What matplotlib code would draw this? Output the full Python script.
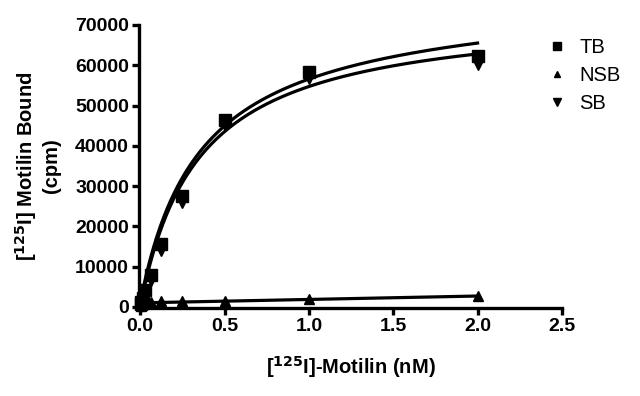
import numpy as np
import matplotlib
matplotlib.use('Agg')
import matplotlib.pyplot as plt

plt.rcParams['font.family'] = ['Liberation Sans', 'DejaVu Sans']

# --- data ---
conc = [0.0039, 0.0078, 0.0156, 0.03125, 0.0625, 0.125, 0.25, 0.5, 1.0, 2.0]
tb = [600, 1200, 2300, 4300, 8000, 15600, 27500, 46400, 58300, 62200]
nsb = [300, 500, 700, 1000, 1300, 1400, 1500, 1500, 2000, 2700]
sb = [300, 700, 1600, 3300, 6700, 14200, 26000, 45100, 56800, 60300]

# fitted curve parameters (one site binding + linear non-specific)
bmax = 73700.0
kd = 0.347
ns_slope = 850.0
ns_icpt = 1000.0

xfit = np.linspace(0, 2.0, 400)
sb_fit = bmax * xfit / (kd + xfit)
nsb_fit = ns_icpt + ns_slope * xfit
tb_fit = sb_fit + ns_slope * xfit + ns_icpt * np.minimum(1, xfit / 0.02)

fig = plt.figure(figsize=(6.4, 3.96), dpi=100)
ax = fig.add_axes([0.219, 0.225, 0.659, 0.712])

lw = 2.3
ax.plot(xfit, tb_fit, color='black', lw=lw)
ax.plot(xfit, sb_fit, color='black', lw=lw)
ax.plot(xfit, nsb_fit, color='black', lw=lw)

h1, = ax.plot(conc, tb, 's', color='black', ms=8.5, clip_on=False, label='TB')
h2, = ax.plot(conc, nsb, '^', color='black', ms=6.5, clip_on=False, label='NSB')
h3, = ax.plot(conc, sb, 'v', color='black', ms=8, clip_on=False, label='SB')

ax.set_xlim(0, 2.5)
ax.set_ylim(0, 70000)
ax.set_xticks([0.0, 0.5, 1.0, 1.5, 2.0, 2.5])
ax.set_xticklabels(['0.0', '0.5', '1.0', '1.5', '2.0', '2.5'])
ax.set_yticks(np.arange(0, 70001, 10000))

for s in ['top', 'right']:
    ax.spines[s].set_visible(False)
for s in ['left', 'bottom']:
    ax.spines[s].set_linewidth(2.4)
    ax.spines[s].set_position(('outward', 1))
ax.tick_params(width=2.4, length=5, labelsize=14, pad=2)
for lab in ax.get_xticklabels() + ax.get_yticklabels():
    lab.set_fontweight('bold')

ax.set_xlabel('[$^{\\mathbf{125}}$I]-Motilin (nM)', fontsize=14.5, fontweight='bold', labelpad=14)
ax.set_ylabel('[$^{\\mathbf{125}}$I] Motilin Bound\n(cpm)', fontsize=14.5, fontweight='bold',
              labelpad=10, linespacing=1.2)

leg = fig.legend(handles=[h1, h2, h3], loc='upper left', bbox_to_anchor=(0.83, 0.95),
                 frameon=False, fontsize=14.5, handlelength=0.8, handletextpad=0.7,
                 labelspacing=0.45, markerscale=0.75)

fig.savefig('out.png', dpi=100)
